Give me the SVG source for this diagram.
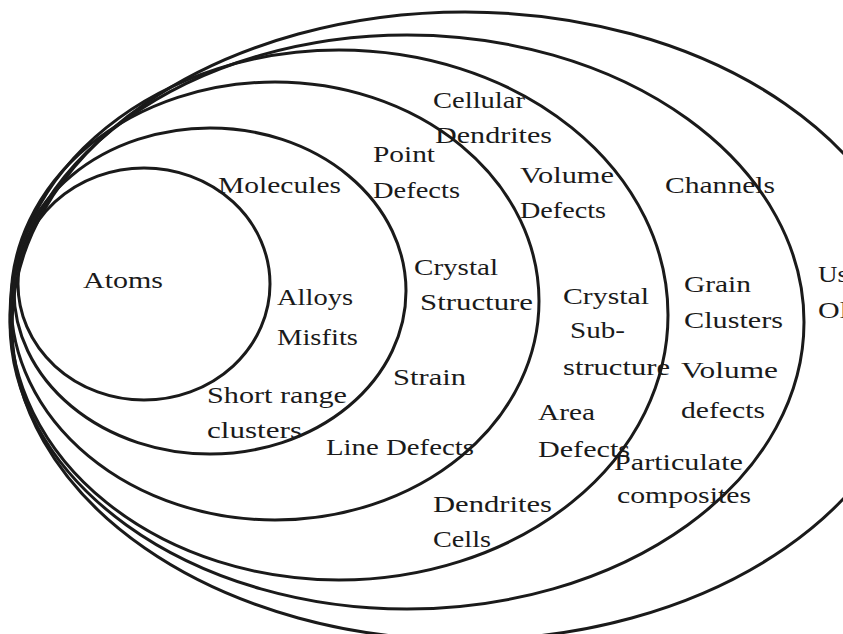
<svg xmlns="http://www.w3.org/2000/svg" width="843" height="634" viewBox="0 0 843 634">
<style>
.ring{fill:none;stroke:#1a1a1a;stroke-width:3}
text{font-family:"Liberation Serif","DejaVu Serif",serif;font-size:23px;fill:#1a1a1a}
</style>
<rect width="843" height="634" fill="#ffffff"/>
<g id="ring-outer">
<ellipse class="ring" cx="465" cy="326" rx="453" ry="314"/>
<text x="818" y="282" textLength="30" lengthAdjust="spacingAndGlyphs">Us</text>
<text x="818" y="318" textLength="30" lengthAdjust="spacingAndGlyphs">Ol</text>
</g>
<g id="ring-channels">
<ellipse class="ring" cx="407" cy="322" rx="397" ry="287"/>
<text x="665" y="193" textLength="110" lengthAdjust="spacingAndGlyphs">Channels</text>
<text x="684" y="292" textLength="67" lengthAdjust="spacingAndGlyphs">Grain</text>
<text x="684" y="328" textLength="99" lengthAdjust="spacingAndGlyphs">Clusters</text>
<text x="681" y="378" textLength="97" lengthAdjust="spacingAndGlyphs">Volume</text>
<text x="681" y="418" textLength="84" lengthAdjust="spacingAndGlyphs">defects</text>
<text x="614" y="470" textLength="129" lengthAdjust="spacingAndGlyphs">Particulate</text>
<text x="617" y="503" textLength="134" lengthAdjust="spacingAndGlyphs">composites</text>
</g>
<g id="ring-substructure">
<ellipse class="ring" cx="339" cy="315" rx="329" ry="265"/>
<text x="433" y="108" textLength="92" lengthAdjust="spacingAndGlyphs">Cellular</text>
<text x="435" y="143" textLength="117" lengthAdjust="spacingAndGlyphs">Dendrites</text>
<text x="520" y="183" textLength="94" lengthAdjust="spacingAndGlyphs">Volume</text>
<text x="520" y="218" textLength="86" lengthAdjust="spacingAndGlyphs">Defects</text>
<text x="563" y="304" textLength="86" lengthAdjust="spacingAndGlyphs">Crystal</text>
<text x="570" y="338" textLength="55" lengthAdjust="spacingAndGlyphs">Sub-</text>
<text x="563" y="375" textLength="107" lengthAdjust="spacingAndGlyphs">structure</text>
<text x="538" y="420" textLength="57" lengthAdjust="spacingAndGlyphs">Area</text>
<text x="538" y="457" textLength="92" lengthAdjust="spacingAndGlyphs">Defects</text>
<text x="433" y="512" textLength="119" lengthAdjust="spacingAndGlyphs">Dendrites</text>
<text x="433" y="547" textLength="58" lengthAdjust="spacingAndGlyphs">Cells</text>
</g>
<g id="ring-structure">
<ellipse class="ring" cx="275" cy="301" rx="264" ry="219"/>
<text x="373" y="162" textLength="62" lengthAdjust="spacingAndGlyphs">Point</text>
<text x="373" y="198" textLength="87" lengthAdjust="spacingAndGlyphs">Defects</text>
<text x="414" y="275" textLength="84" lengthAdjust="spacingAndGlyphs">Crystal</text>
<text x="420" y="310" textLength="113" lengthAdjust="spacingAndGlyphs">Structure</text>
<text x="393" y="385" textLength="73" lengthAdjust="spacingAndGlyphs">Strain</text>
<text x="326" y="455" textLength="148" lengthAdjust="spacingAndGlyphs">Line Defects</text>
</g>
<g id="ring-molecules">
<ellipse class="ring" cx="210" cy="291" rx="196" ry="163"/>
<text x="218" y="193" textLength="123" lengthAdjust="spacingAndGlyphs">Molecules</text>
<text x="277" y="305" textLength="76" lengthAdjust="spacingAndGlyphs">Alloys</text>
<text x="277" y="345" textLength="81" lengthAdjust="spacingAndGlyphs">Misfits</text>
<text x="207" y="403" textLength="140" lengthAdjust="spacingAndGlyphs">Short range</text>
<text x="207" y="438" textLength="95" lengthAdjust="spacingAndGlyphs">clusters</text>
</g>
<g id="ring-atoms">
<ellipse class="ring" cx="144" cy="284" rx="126" ry="116"/>
<text x="83" y="288" textLength="80" lengthAdjust="spacingAndGlyphs">Atoms</text>
</g>
</svg>
